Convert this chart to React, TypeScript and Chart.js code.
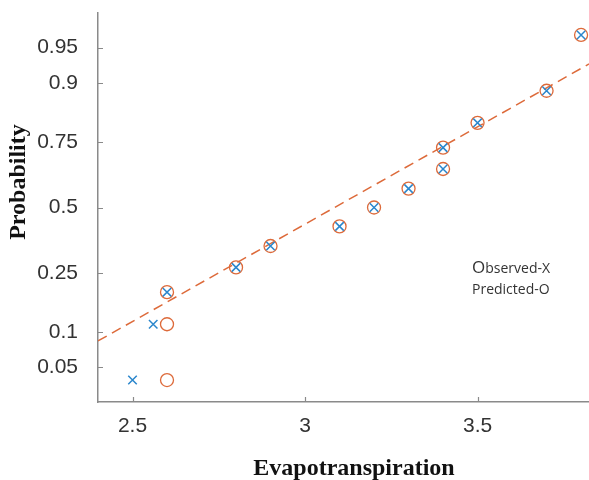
import React, { useEffect, useRef } from "react";
import { Chart, registerables } from "chart.js";

Chart.register(...registerables);

// ---- data ----
const observedX = [2.5, 2.56, 2.6, 2.8, 2.9, 3.1, 3.2, 3.3, 3.4, 3.4, 3.5, 3.7, 3.8];
const predictedX = [2.6, 2.6, 2.6, 2.8, 2.9, 3.1, 3.2, 3.3, 3.4, 3.4, 3.5, 3.7, 3.8];
const probabilities = [0.038, 0.115, 0.192, 0.269, 0.346, 0.423, 0.5, 0.577, 0.654, 0.731, 0.808, 0.885, 0.962];
const fitLineX = [2.4, 3.823];
const fitLineP = [0.085, 0.93];
const yTickProbs = [0.05, 0.1, 0.25, 0.5, 0.75, 0.9, 0.95];
const yTickLabels = ["0.05", "0.1", "0.25", "0.5", "0.75", "0.9", "0.95"];
const xTickValues = [2.5, 3, 3.5];
const xTickLabels = ["2.5", "3", "3.5"];

// inverse standard normal CDF (Acklam) – maps probability to normal-probability-paper axis
function probit(p: number): number {
  const a = [-3.969683028665376e1, 2.209460984245205e2, -2.759285104469687e2, 1.38357751867269e2, -3.066479806614716e1, 2.506628277459239];
  const b = [-5.447609879822406e1, 1.615858368580409e2, -1.556989798598866e2, 6.680131188771972e1, -1.328068155288572e1];
  const c = [-7.784894002430293e-3, -3.223964580411365e-1, -2.400758277161838, -2.549732539343734, 4.374664141464968, 2.938163982698783];
  const d = [7.784695709041462e-3, 3.224671290700398e-1, 2.445134137142996, 3.754408661907416];
  const pl = 0.02425;
  if (p < pl) {
    const q = Math.sqrt(-2 * Math.log(p));
    return (((((c[0] * q + c[1]) * q + c[2]) * q + c[3]) * q + c[4]) * q + c[5]) / ((((d[0] * q + d[1]) * q + d[2]) * q + d[3]) * q + 1);
  }
  if (p > 1 - pl) {
    const q = Math.sqrt(-2 * Math.log(1 - p));
    return -(((((c[0] * q + c[1]) * q + c[2]) * q + c[3]) * q + c[4]) * q + c[5]) / ((((d[0] * q + d[1]) * q + d[2]) * q + d[3]) * q + 1);
  }
  const q = p - 0.5;
  const r = q * q;
  return ((((((a[0] * r + a[1]) * r + a[2]) * r + a[3]) * r + a[4]) * r + a[5]) * q) / (((((b[0] * r + b[1]) * r + b[2]) * r + b[3]) * r + b[4]) * r + 1);
}

const BLUE = "#2a86cc";
const ORANGE = "#dd6a3a";

const innerTicks = {
  id: "innerTicks",
  afterDraw(chart: any) {
    const { ctx, chartArea, scales } = chart;
    ctx.save();
    ctx.strokeStyle = "#8a8a8a";
    ctx.lineWidth = 1.2;
    ctx.beginPath();
    scales.x.ticks.forEach((t: any) => {
      const px = Math.round(scales.x.getPixelForValue(t.value)) + 0.5;
      ctx.moveTo(px, chartArea.bottom);
      ctx.lineTo(px, chartArea.bottom - 5);
    });
    scales.y.ticks.forEach((t: any) => {
      const py = Math.round(scales.y.getPixelForValue(t.value)) + 0.5;
      ctx.moveTo(chartArea.left, py);
      ctx.lineTo(chartArea.left + 5, py);
    });
    ctx.stroke();
    ctx.restore();
  },
};

const textLayer = {
  id: "textLayer",
  afterDraw(chart: any) {
    const { ctx } = chart;
    ctx.save();
    // axis titles
    ctx.fillStyle = "#111";
    ctx.font = "bold 24px 'Liberation Serif', 'Times New Roman', serif";
    ctx.textAlign = "center";
    ctx.textBaseline = "alphabetic";
    ctx.fillText("Evapotranspiration", 354, 475);
    ctx.save();
    ctx.translate(25, 182);
    ctx.rotate(-Math.PI / 2);
    ctx.fillText("Probability", 0, 0);
    ctx.restore();
    // annotation
    ctx.fillStyle = "#333";
    ctx.textAlign = "left";
    ctx.font = "17px 'Open Sans', sans-serif";
    ctx.fillText("O", 472, 273);
    const ow = ctx.measureText("O").width;
    ctx.font = "14px 'Open Sans', sans-serif";
    ctx.fillText("bserved-X", 472 + ow, 273);
    ctx.fillText("Predicted-O", 472, 294);
    ctx.restore();
  },
};

const zeroPad = (s: any) => {
  s.paddingLeft = 0;
  s.paddingRight = 0;
  s.paddingTop = 0;
  s.paddingBottom = 0;
};

export default function App() {
  const ref = useRef<HTMLCanvasElement | null>(null);

  useEffect(() => {
    if (!ref.current) return;
    const chart = new Chart(ref.current, {
      type: "scatter",
      data: {
        datasets: [
          {
            label: "Observed",
            data: observedX.map((x, i) => ({ x, y: probit(probabilities[i]) })),
            pointStyle: "crossRot",
            pointRadius: 6,
            borderColor: BLUE,
            backgroundColor: BLUE,
            pointBorderWidth: 1.5,
            showLine: false,
          },
          {
            label: "Predicted",
            data: predictedX.map((x, i) => ({ x, y: probit(probabilities[i]) })),
            pointStyle: "circle",
            pointRadius: 6.5,
            borderColor: ORANGE,
            backgroundColor: "rgba(0,0,0,0)",
            pointBorderWidth: 1.3,
            showLine: false,
          },
          {
            label: "Fit",
            data: fitLineX.map((x, i) => ({ x, y: probit(fitLineP[i]) })),
            showLine: true,
            pointRadius: 0,
            borderColor: ORANGE,
            borderWidth: 1.5,
            borderDash: [10, 6],
            fill: false,
          },
        ],
      },
      options: {
        responsive: false,
        animation: false,
        layout: { padding: { top: 13, left: 0, right: 0, bottom: 0 }, autoPadding: false },
        plugins: { legend: { display: false }, tooltip: { enabled: false } },
        scales: {
          x: {
            type: "linear",
            min: 2.4,
            max: 3.823,
            afterBuildTicks: (s: any) => {
              s.ticks = xTickValues.map((v) => ({ value: v }));
            },
            afterFit: (s: any) => {
              s.height = 78;
              zeroPad(s);
            },
            grid: { display: false },
            border: { display: true, color: "#8a8a8a", width: 1.5 },
            ticks: {
              padding: 4,
              color: "#333",
              font: { family: "'Liberation Sans', Arial, sans-serif", size: 21 },
              callback: (_v: any, i: number) => xTickLabels[i],
              maxRotation: 0,
            },
          },
          y: {
            type: "linear",
            min: -2,
            max: 2,
            afterBuildTicks: (s: any) => {
              s.ticks = yTickProbs.map((p) => ({ value: probit(p) }));
            },
            afterFit: (s: any) => {
              s.width = 98;
              zeroPad(s);
            },
            grid: { display: false },
            border: { display: true, color: "#8a8a8a", width: 1.5 },
            ticks: {
              padding: 12,
              color: "#333",
              font: { family: "'Liberation Sans', Arial, sans-serif", size: 21 },
              callback: (_v: any, i: number) => yTickLabels[i],
            },
          },
        },
      },
      plugins: [innerTicks, textLayer],
    } as any);
    return () => chart.destroy();
  }, []);

  return (
    <div style={{ position: "absolute", left: 0, top: 0, width: 589, height: 480, overflow: "hidden", background: "#fff" }}>
      <canvas ref={ref} width={589} height={480} style={{ width: 589, height: 480, display: "block" }} />
    </div>
  );
}
